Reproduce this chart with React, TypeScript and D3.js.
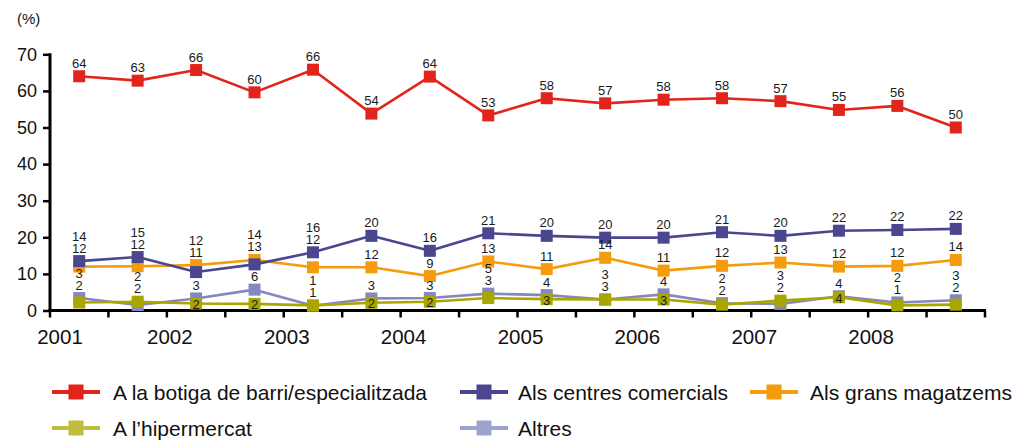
import React, { useRef, useEffect } from 'react';
import * as d3 from 'd3';

const years = ['2001', '2002', '2003', '2004', '2005', '2006', '2007', '2008'];
const yTicks = [0, 10, 20, 30, 40, 50, 60, 70];

const botiga = [64.0, 62.8, 65.7, 59.6, 65.8, 53.8, 63.9, 53.3, 58.0, 56.6, 57.6, 58.0, 57.2, 54.8, 55.9, 50.0];
const centres = [13.5, 14.6, 10.5, 12.6, 15.9, 20.4, 16.3, 21.1, 20.4, 19.9, 19.9, 21.4, 20.4, 21.8, 22.0, 22.3];
const magatzems = [12.0, 12.1, 12.4, 13.8, 11.8, 11.8, 9.4, 13.4, 11.3, 14.4, 10.9, 12.2, 13.1, 12.0, 12.2, 13.8];
const hipermercat = [2.2, 2.4, 1.9, 1.8, 1.4, 2.1, 2.4, 3.4, 3.1, 3.0, 3.0, 1.6, 2.7, 3.6, 1.4, 1.6];
const altres = [3.4, 1.5, 3.3, 5.7, 1.3, 3.3, 3.4, 4.6, 4.2, 3.0, 4.4, 2.0, 1.8, 3.9, 2.2, 2.8];

// survey waves where the hipermercat label sits on its own marker
const hiperLabelOnMarker = [2, 3, 5, 6, 8, 10, 13];

type Series = { key: string; name: string; color: string; legendColor: string; values: number[] };

const series: Series[] = [
  { key: 'botiga', name: 'A la botiga de barri/especialitzada', color: '#e2251c', legendColor: '#e2251c', values: botiga },
  { key: 'magatzems', name: 'Als grans magatzems', color: '#f49c0e', legendColor: '#f49c0e', values: magatzems },
  { key: 'centres', name: 'Als centres comercials', color: '#4a4790', legendColor: '#4a4790', values: centres },
  { key: 'altres', name: 'Altres', color: '#8587c1', legendColor: '#9ea2cf', values: altres },
  { key: 'hiper', name: 'A l\u2019hipermercat', color: '#aaa600', legendColor: '#c0bc3e', values: hipermercat },
];

const legendOrder = ['botiga', 'centres', 'magatzems', 'hiper', 'altres'];

const FONT = '"Liberation Sans", Arial, Helvetica, sans-serif';

export default function App() {
  const svgRef = useRef<SVGSVGElement | null>(null);

  useEffect(() => {
    if (!svgRef.current) return;
    const svg = d3.select(svgRef.current);
    svg.selectAll('*').remove();

    const n = botiga.length;
    const left = 50, right = 985, top = 54.3, bottom = 310.5;

    const x = d3.scaleBand<number>().domain(d3.range(n)).range([left, right]).padding(0);
    const cx = (i: number) => (x(i) as number) + x.bandwidth() / 2;
    const y = d3.scaleLinear().domain([0, 70]).range([bottom, top]);

    const g = svg.append('g').style('font-family', FONT);

    // y axis
    g.append('text')
      .attr('x', 17).attr('y', 18)
      .attr('dominant-baseline', 'central')
      .style('font-size', '15px').attr('fill', '#111')
      .text('(%)');

    const yAxis = g.append('g').attr('transform', `translate(${left},0)`)
      .call(d3.axisLeft(y).tickValues(yTicks).tickSize(7).tickPadding(6).tickFormat(d3.format('d')));
    yAxis.select('.domain').attr('stroke', '#000').attr('stroke-width', 3)
      .attr('d', `M0,${top - 1}V${bottom}`);
    yAxis.selectAll('.tick line').attr('stroke', '#000').attr('stroke-width', 2.5);
    yAxis.selectAll('.tick text').attr('fill', '#111').style('font-size', '18px').style('font-family', FONT);

    // x axis
    const bounds = d3.range(n + 1).map(i => (i < n ? (x(i) as number) : right));
    g.append('line')
      .attr('x1', left - 1.5).attr('x2', right + 1)
      .attr('y1', bottom).attr('y2', bottom)
      .attr('stroke', '#000').attr('stroke-width', 3);
    g.append('g').selectAll('line').data(bounds).join('line')
      .attr('x1', d => d).attr('x2', d => d)
      .attr('y1', bottom).attr('y2', bottom + 7)
      .attr('stroke', '#000').attr('stroke-width', 2.5);
    g.append('g').selectAll('text').data(years).join('text')
      .attr('x', (d, i) => Math.max(bounds[i * 2] + 3, 60))
      .attr('y', 336)
      .attr('text-anchor', 'middle')
      .attr('dominant-baseline', 'central')
      .style('font-size', '20.5px').attr('fill', '#111')
      .text(d => d);

    // lines and markers
    const line = d3.line<number>().x((d, i) => cx(i)).y(d => y(d));
    series.forEach(s => {
      g.append('path')
        .datum(s.values)
        .attr('d', line)
        .attr('fill', 'none')
        .attr('stroke', s.color)
        .attr('stroke-width', 2.6)
        .attr('stroke-linejoin', 'round');
      g.append('g').selectAll('rect').data(s.values).join('rect')
        .attr('x', (d, i) => cx(i) - 6)
        .attr('y', d => y(d) - 6)
        .attr('width', 12).attr('height', 12)
        .attr('fill', s.color);
    });

    // value labels, stacked upward so they don't collide
    const labels = g.append('g').style('font-size', '13px').attr('fill', '#1a1a1a');
    for (let i = 0; i < n; i++) {
      const pts = series.map(s => ({ key: s.key, v: s.values[i], py: y(s.values[i]) }))
        .sort((a, b) => a.v - b.v);
      let ceiling = Infinity;
      pts.forEach((p, k) => {
        if (p.key === 'hiper' && hiperLabelOnMarker.includes(i)) {
          labels.append('text')
            .attr('x', cx(i)).attr('y', p.py + 1)
            .attr('text-anchor', 'middle').attr('dominant-baseline', 'central')
            .text(Math.round(p.v));
          return;
        }
        let ly = p.py - 13;
        pts.slice(k + 1).forEach(q => {
          if (q.py + 6 > ly) ly = Math.min(ly, q.py - 13);
        });
        ly = Math.min(ly, ceiling);
        ceiling = ly - 12;
        labels.append('text')
          .attr('x', cx(i)).attr('y', ly)
          .attr('text-anchor', 'middle').attr('dominant-baseline', 'central')
          .text(Math.round(p.v));
      });
    }

    // legend
    const legendPos = [
      { x: 52, y: 392, tx: 113 }, { x: 460, y: 392, tx: 518 }, { x: 750, y: 392, tx: 810 },
      { x: 52, y: 428, tx: 113 }, { x: 460, y: 428, tx: 518 },
    ];
    legendOrder.forEach((key, i) => {
      const s = series.find(d => d.key === key)!;
      const p = legendPos[i];
      const lg = g.append('g').attr('transform', `translate(${p.x},${p.y})`);
      lg.append('line').attr('x1', 0).attr('x2', 48).attr('y1', 0).attr('y2', 0)
        .attr('stroke', s.legendColor).attr('stroke-width', 4);
      lg.append('rect').attr('x', 16.5).attr('y', -7.5).attr('width', 15).attr('height', 15)
        .attr('fill', s.legendColor);
      lg.append('text').attr('x', p.tx - p.x).attr('y', 0)
        .attr('dominant-baseline', 'central')
        .style('font-size', '21px').attr('fill', '#111')
        .text(s.name);
    });
  }, []);

  return (
    <div style={{ position: 'absolute', left: 0, top: 0, width: 1016, height: 440, background: '#fff' }}>
      <svg ref={svgRef} width={1016} height={440} style={{ display: 'block' }} />
    </div>
  );
}
